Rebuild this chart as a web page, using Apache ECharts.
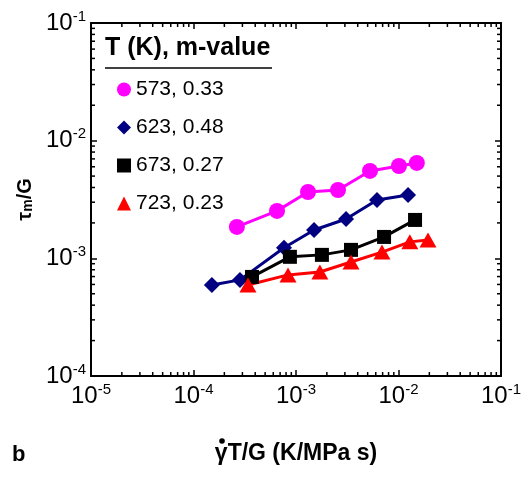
<!DOCTYPE html>
<html>
<head>
<meta charset="utf-8">
<script src="https://cdn.jsdelivr.net/npm/echarts@6/dist/echarts.min.js"></script>
<style>
html, body {margin: 0; padding: 0; background: #fff;}
#chart {width: 525px; height: 479px;}
</style>
</head>
<body>
<div id="chart"></div>
<script>
// legend names: T (K), m-value
const seriesNames = ['573, 0.33', '623, 0.48', '673, 0.27', '723, 0.23'];

// strain rate * T / G  vs  tau_m / G
const x573 = [2.65e-4, 6.53e-4, 1.31e-3, 2.57e-3, 5.27e-3, 1.01e-2, 1.51e-2];
const y573 = [1.85e-3, 2.53e-3, 3.66e-3, 3.81e-3, 5.53e-3, 6.09e-3, 6.47e-3];

const x623 = [1.51e-4, 2.84e-4, 7.64e-4, 1.50e-3, 3.08e-3, 6.17e-3, 1.24e-2];
const y623 = [5.94e-4, 6.56e-4, 1.23e-3, 1.74e-3, 2.16e-3, 3.13e-3, 3.46e-3];

const x673 = [3.72e-4, 8.72e-4, 1.79e-3, 3.44e-3, 7.23e-3, 1.45e-2];
const y673 = [6.95e-4, 1.03e-3, 1.07e-3, 1.18e-3, 1.52e-3, 2.12e-3];

const x723 = [3.40e-4, 8.36e-4, 1.71e-3, 3.44e-3, 6.90e-3, 1.29e-2, 1.94e-2];
const y723 = [5.94e-4, 7.23e-4, 7.66e-4, 9.31e-4, 1.13e-3, 1.38e-3, 1.43e-3];

// axis ranges and decade tick exponents
const xMin = 1e-5, xMax = 1e-1;
const yMin = 1e-4, yMax = 1e-1;
const xDecades = [-5, -4, -3, -2];
const yDecades = [-4, -3, -2];
const minorSteps = [2, 3, 4, 5, 6, 7, 8, 9];

const xMinorTicks = [];
xDecades.forEach(e => minorSteps.forEach(m => xMinorTicks.push(m * Math.pow(10, e))));
const yMinorTicks = [];
yDecades.forEach(e => minorSteps.forEach(m => yMinorTicks.push(m * Math.pow(10, e))));

const font = 'Liberation Sans, Arial, sans-serif';

function pairs(xs, ys) {
    return xs.map((x, i) => [x, ys[i]]);
}

function powLabel(v) {
    return '{b|10}{s|' + Math.round(Math.log10(v)) + '}';
}

const labelRich = {
    b: {fontSize: 24, lineHeight: 28, color: '#000', fontFamily: font},
    s: {fontSize: 15, lineHeight: 15, verticalAlign: 'top', color: '#000', fontFamily: font}
};

const axisBase = {
    type: 'log',
    logBase: 10,
    axisLine: {show: true, onZero: false, lineStyle: {color: '#000', width: 2}},
    axisTick: {show: true, inside: true, length: 6, lineStyle: {color: '#000', width: 1.5}},
    minorTick: {show: false},
    splitLine: {show: false}
};

const minorLen = 4;
const tickStyle = {stroke: '#000', lineWidth: 1.5};

function minorTicks(values, dir) {
    return {
        type: 'custom',
        silent: true,
        clip: false,
        z: 5,
        data: values.map(v => dir === 'x' ? [v, yMin] : [xMin, v]),
        renderItem: function (params, api) {
            const p = api.coord([api.value(0), api.value(1)]);
            const cs = params.coordSys;
            if (dir === 'x') {
                const b = cs.y + cs.height;
                return {type: 'group', children: [
                    {type: 'line', shape: {x1: p[0], y1: b, x2: p[0], y2: b - minorLen}, style: tickStyle},
                    {type: 'line', shape: {x1: p[0], y1: cs.y, x2: p[0], y2: cs.y + minorLen}, style: tickStyle}
                ]};
            }
            const r = cs.x + cs.width;
            return {type: 'group', children: [
                {type: 'line', shape: {x1: cs.x, y1: p[1], x2: cs.x + minorLen, y2: p[1]}, style: tickStyle},
                {type: 'line', shape: {x1: r, y1: p[1], x2: r - minorLen, y2: p[1]}, style: tickStyle}
            ]};
        }
    };
}

function dataSeries(name, data, color, symbol, size) {
    return {
        name: name,
        type: 'line',
        data: data,
        symbol: symbol,
        symbolSize: size,
        smooth: false,
        itemStyle: {color: color},
        lineStyle: {color: color, width: 3},
        z: 3
    };
}

const chart = echarts.init(document.getElementById('chart'));

const option = {
    animation: false,
    backgroundColor: '#fff',
    grid: {left: 91, right: 24, top: 23, bottom: 103, containLabel: false, outerBoundsMode: 'none'},
    legend: {
        orient: 'vertical',
        left: 112,
        top: 74,
        itemWidth: 14,
        itemHeight: 14,
        itemGap: 17,
        textStyle: {fontSize: 21, color: '#000', fontFamily: font},
        data: [
            {name: seriesNames[0], icon: 'circle', itemStyle: {}},
            {name: seriesNames[1], icon: 'diamond'},
            {name: seriesNames[2], icon: 'rect'},
            {name: seriesNames[3], icon: 'triangle'}
        ]
    },
    xAxis: [
        Object.assign({}, axisBase, {
            min: xMin, max: xMax, position: 'bottom',
            axisLabel: {margin: 6, formatter: powLabel, rich: labelRich},
            name: 'γT/G (K/MPa s)',
            nameLocation: 'middle',
            nameGap: 66,
            nameTextStyle: {fontSize: 23, fontWeight: 'bold', color: '#000', fontFamily: font}
        }),
        Object.assign({}, axisBase, {
            min: xMin, max: xMax, position: 'top',
            axisLabel: {show: false}
        })
    ],
    yAxis: [
        Object.assign({}, axisBase, {
            min: yMin, max: yMax, position: 'left',
            axisLabel: {margin: 5, formatter: powLabel, rich: labelRich},
            name: '{a|τ}{m|m}{a|/G}',
            nameLocation: 'middle',
            nameGap: 56,
            nameTextStyle: {
                rich: {
                    a: {fontSize: 20, fontWeight: 'bold', color: '#000', fontFamily: font},
                    m: {fontSize: 14, fontWeight: 'bold', color: '#000', fontFamily: font, verticalAlign: 'bottom'}
                }
            }
        }),
        Object.assign({}, axisBase, {
            min: yMin, max: yMax, position: 'right',
            axisLabel: {show: false}
        })
    ],
    graphic: [
        {
            type: 'text', left: 105, top: 36,
            style: {text: 'T (K), m-value', font: 'bold 25px ' + font, fill: '#000'}
        },
        {
            type: 'line', shape: {x1: 105, y1: 68, x2: 272, y2: 68},
            style: {stroke: '#000', lineWidth: 1.5}
        },
        {
            type: 'circle', shape: {cx: 222, cy: 441, r: 2.8},
            style: {fill: '#000'}
        },
        {
            type: 'text', left: 12, top: 444,
            style: {text: 'b', font: 'bold 22px ' + font, fill: '#000'}
        }
    ],
    series: [
        dataSeries(seriesNames[0], pairs(x573, y573), '#ff00ff', 'circle', 16),
        dataSeries(seriesNames[1], pairs(x623, y623), '#000080', 'diamond', 16),
        dataSeries(seriesNames[2], pairs(x673, y673), '#000000', 'rect', 14),
        dataSeries(seriesNames[3], pairs(x723, y723), '#ff0000', 'triangle', [17, 15]),
        minorTicks(xMinorTicks, 'x'),
        minorTicks(yMinorTicks, 'y')
    ]
};

chart.setOption(option);
</script>
</body>
</html>
